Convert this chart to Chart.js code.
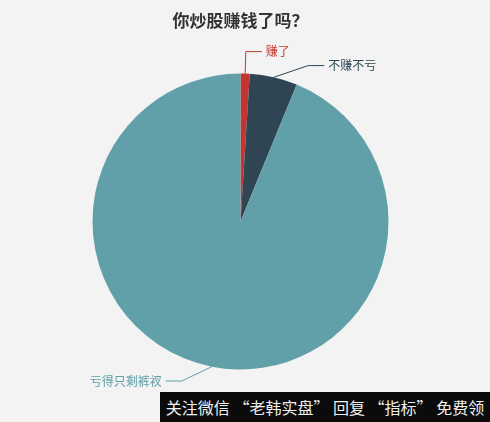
<!DOCTYPE html>
<html>
<head>
<meta charset="utf-8">
<script src="https://cdn.jsdelivr.net/npm/chart.js@4/dist/chart.umd.min.js"></script>
<style>
  html, body { margin: 0; padding: 0; background: #f3f3f3; }
  #wrap { position: relative; width: 490px; height: 422px; }
  #watermark {
    position: absolute; left: 160px; top: 392px; width: 330px; height: 30px;
    background: #0b0b0b; color: #f0f0f0;
    font: 16px "Noto Sans CJK SC", sans-serif; line-height: 30px;
    text-align: center; white-space: nowrap;
  }
</style>
</head>
<body>
<div id="wrap">
  <canvas id="pie" width="490" height="422"></canvas>
  <div id="watermark">关注微信 “老韩实盘” 回复 “指标” 免费领</div>
</div>
<script>
// du lieu
const labels = ['赚了', '不赚不亏', '亏得只剩裤衩'];
const values = [1, 5.2, 93.8];
const colors = ['#c23531', '#2f4554', '#61a0a8'];

// nhan + duong dan kieu echarts
const LINE1 = 22, LINE2 = 16, GAP = 14, MAXY = 381;

const pieLabels = {
  id: 'pieLabels',
  afterDatasetsDraw(chart) {
    const ctx = chart.ctx;
    const arcs = chart.getDatasetMeta(0).data;
    const items = arcs.map((arc, i) => {
      const mid = (arc.startAngle + arc.endAngle) / 2;
      const cos = Math.cos(mid), sin = Math.sin(mid);
      const r = arc.outerRadius;
      return {
        i, arc, cos, sin, side: cos >= 0 ? 1 : -1,
        x0: arc.x + cos * r, y0: arc.y + sin * r,
        y: arc.y + sin * (r + LINE1)
      };
    });
    [1, -1].forEach(side => {
      const list = items.filter(it => it.side === side).sort((a, b) => a.y - b.y);
      for (let k = 1; k < list.length; k++) {
        if (list[k].y - list[k - 1].y < GAP) list[k].y = list[k - 1].y + GAP;
      }
      list.forEach(it => { if (it.y > MAXY) it.y = MAXY; });
    });

    ctx.save();
    ctx.font = '12px "Noto Sans CJK SC", sans-serif';
    ctx.textBaseline = 'middle';
    items.forEach(it => {
      const R = it.arc.outerRadius + LINE1;
      const natural = it.arc.y + it.sin * R;
      let x1 = it.arc.x + it.cos * R;
      if (Math.abs(it.y - natural) > 0.5) {
        const dy = it.y - it.arc.y;
        x1 = it.arc.x + it.side * Math.sqrt(Math.max(R * R - dy * dy, 0));
      }
      const x2 = x1 + it.side * LINE2;
      ctx.strokeStyle = colors[it.i];
      ctx.lineWidth = 1;
      ctx.beginPath();
      ctx.moveTo(it.x0, it.y0);
      ctx.lineTo(x1, it.y);
      ctx.lineTo(x2, it.y);
      ctx.stroke();
      ctx.fillStyle = colors[it.i];
      ctx.textAlign = it.side > 0 ? 'left' : 'right';
      ctx.fillText(labels[it.i], x2 + it.side * 4, it.y);
    });
    ctx.restore();
  }
};

new Chart(document.getElementById('pie'), {
  type: 'pie',
  data: {
    labels: labels,
    datasets: [{
      data: values,
      backgroundColor: colors,
      borderWidth: 0,
      hoverOffset: 0
    }]
  },
  options: {
    responsive: false,
    animation: false,
    events: [],
    layout: { padding: { left: 0, right: 9, top: 0, bottom: 52.5 } },
    plugins: {
      legend: { display: false },
      tooltip: { enabled: false },
      title: {
        display: true,
        text: '你炒股赚钱了吗？',
        color: '#333',
        font: { size: 17, weight: 'bold', family: '"Noto Sans CJK SC", sans-serif' },
        padding: { top: 10.8, bottom: 42.3 }
      }
    }
  },
  plugins: [pieLabels]
});
</script>
</body>
</html>
